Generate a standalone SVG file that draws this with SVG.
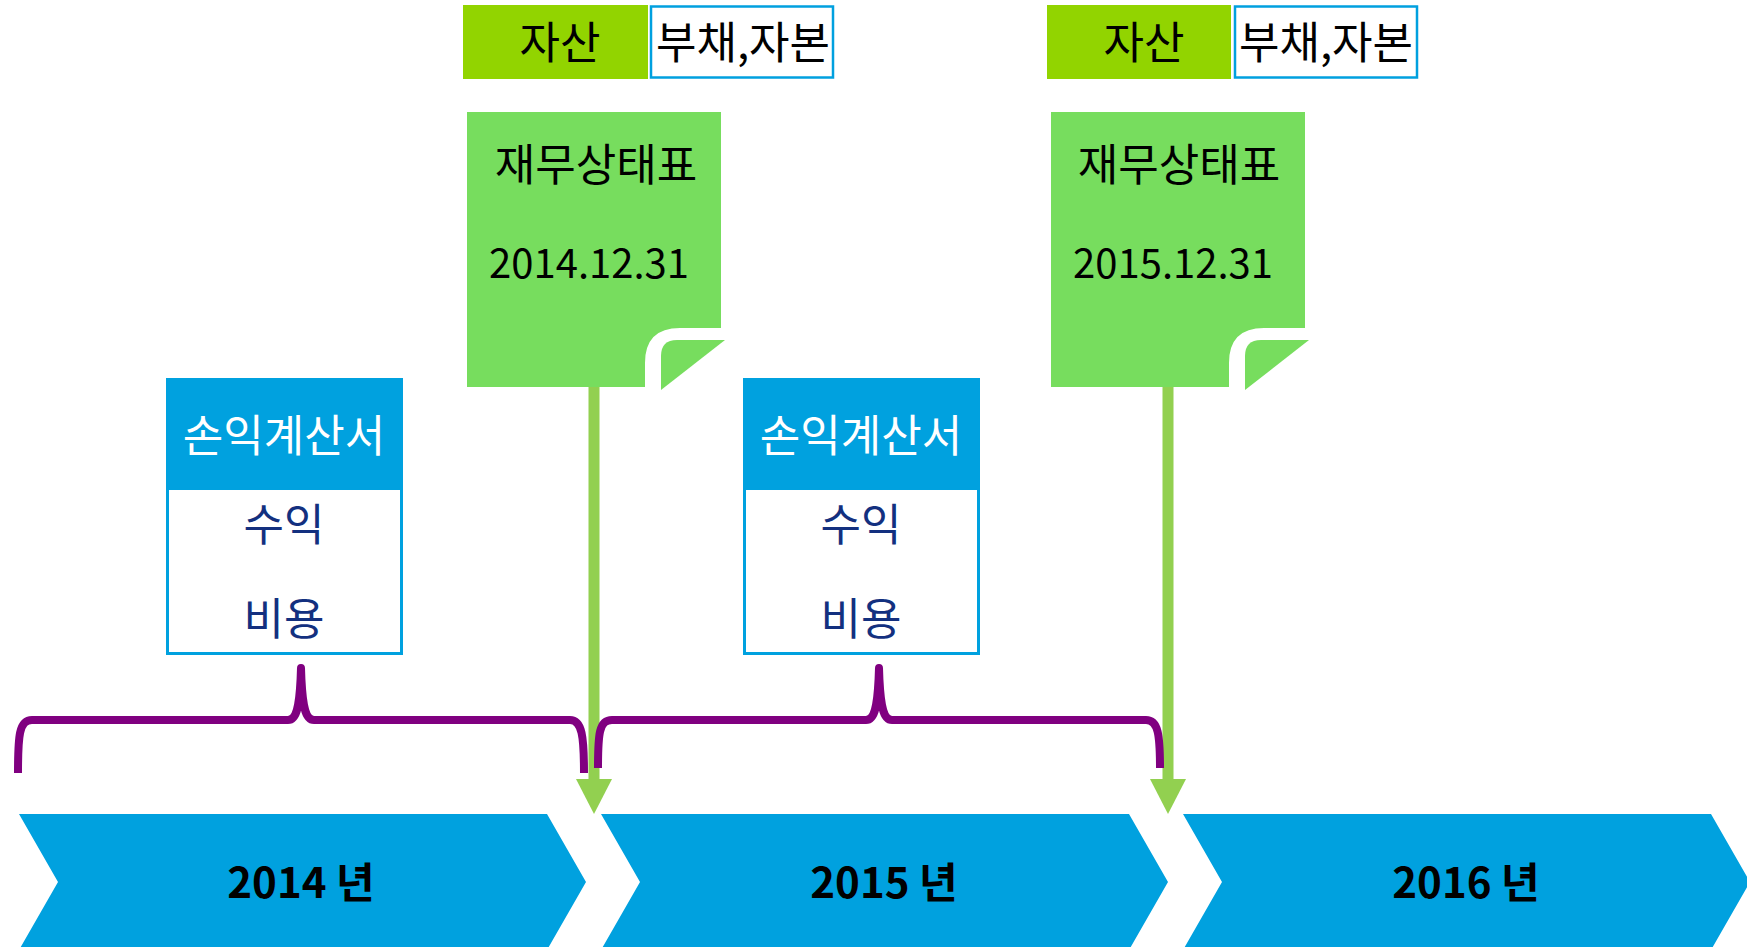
<svg xmlns="http://www.w3.org/2000/svg" width="1747" height="947" viewBox="0 0 1747 947">
<style>
text{font-family:"Noto Sans CJK KR","Noto Sans",sans-serif;}
.t40{font-size:40px;fill:#000;text-anchor:middle;}
.k44{font-size:44px;fill:#000;text-anchor:middle;}
.white{fill:#fff;}
.navy{fill:#13307F;}
.yr{font-size:42px;font-weight:bold;fill:#000;text-anchor:middle;}
.asset{fill:#92D400;}
.liab{fill:#fff;stroke:#00A0DF;stroke-width:2.5;}
.note{fill:#77DD5E;}
.chev{fill:#00A1DF;}
.isbox{fill:#fff;stroke:#00A1DF;stroke-width:3;}
.ishead{fill:#00A1DF;}
.brace{fill:none;stroke:#800080;stroke-width:8;stroke-linejoin:round;}
.conn{stroke:#92D050;stroke-width:11;fill:none;}
.head{fill:#92D050;}
</style>
<rect width="1747" height="947" fill="#fff"/>

<g id="chevron-2014">
<polygon class="chev" points="19,814 547,814 586,882 547,950 19,950 58,882"/>
<text class="yr" x="301" y="898">2014 년</text>
</g>
<g id="chevron-2015">
<polygon class="chev" points="601,814 1129,814 1168,882 1129,950 601,950 640,882"/>
<text class="yr" x="884" y="898">2015 년</text>
</g>
<g id="chevron-2016">
<polygon class="chev" points="1183,814 1711,814 1750,882 1711,950 1183,950 1222,882"/>
<text class="yr" x="1466" y="898">2016 년</text>
</g>

<g id="bs-2014-header">
<rect class="asset" x="463" y="5" width="185" height="74"/>
<text class="k44" x="560" y="59">자산</text>
<rect class="liab" x="651" y="6.5" width="182" height="71"/>
<text class="k44" x="743" y="59">부채,자본</text>
</g>
<g id="bs-2015-header">
<rect class="asset" x="1047" y="5" width="184" height="74"/>
<text class="k44" x="1144" y="59">자산</text>
<rect class="liab" x="1235" y="6.5" width="182" height="71"/>
<text class="k44" x="1326" y="59">부채,자본</text>
</g>

<g id="connectors">
<line class="conn" x1="594" y1="387" x2="594" y2="782"/>
<polygon class="head" points="576,779 612,779 594,814"/>
<line class="conn" x1="1168" y1="387" x2="1168" y2="782"/>
<polygon class="head" points="1150,779 1186,779 1168,814"/>
<path class="brace" d="M18,773 C18,736 19,720 32,720 L288,720 C297,720 300,706 301,668 C302,706 305,720 314,720 L570,720 C582,720 584,736 584,773"/>
<path class="brace" d="M598,768 C598,734 599,720 612,720 L866,720 C875,720 878,706 879,668 C880,706 883,720 892,720 L1146,720 C1158,720 1160,734 1160,768"/>
</g>

<g id="note-2014">
<path class="note" d="M467,112 H721 V328 H680 Q645,328 645,363 V387 H467 Z"/>
<path class="note" d="M661,390 V356 Q661,340 677,340 H725 Z"/>
<text class="k44" x="596" y="181">재무상태표</text>
<text class="t40" x="589" y="278">2014.12.31</text>
</g>
<g id="note-2015">
<path class="note" d="M1051,112 H1305 V328 H1264 Q1229,328 1229,363 V387 H1051 Z"/>
<path class="note" d="M1245,390 V356 Q1245,340 1261,340 H1309 Z"/>
<text class="k44" x="1179" y="181">재무상태표</text>
<text class="t40" x="1173" y="278">2015.12.31</text>
</g>

<g id="is-2014">
<rect class="isbox" x="167.5" y="379.5" width="234" height="274"/>
<rect class="ishead" x="166" y="378" width="237" height="112"/>
<text class="k44 white" x="284" y="452">손익계산서</text>
<text class="k44 navy" x="284" y="541">수익</text>
<text class="k44 navy" x="284" y="635">비용</text>
</g>
<g id="is-2015">
<rect class="isbox" x="744.5" y="379.5" width="234" height="274"/>
<rect class="ishead" x="743" y="378" width="237" height="112"/>
<text class="k44 white" x="861" y="452">손익계산서</text>
<text class="k44 navy" x="861" y="541">수익</text>
<text class="k44 navy" x="861" y="635">비용</text>
</g>
</svg>
